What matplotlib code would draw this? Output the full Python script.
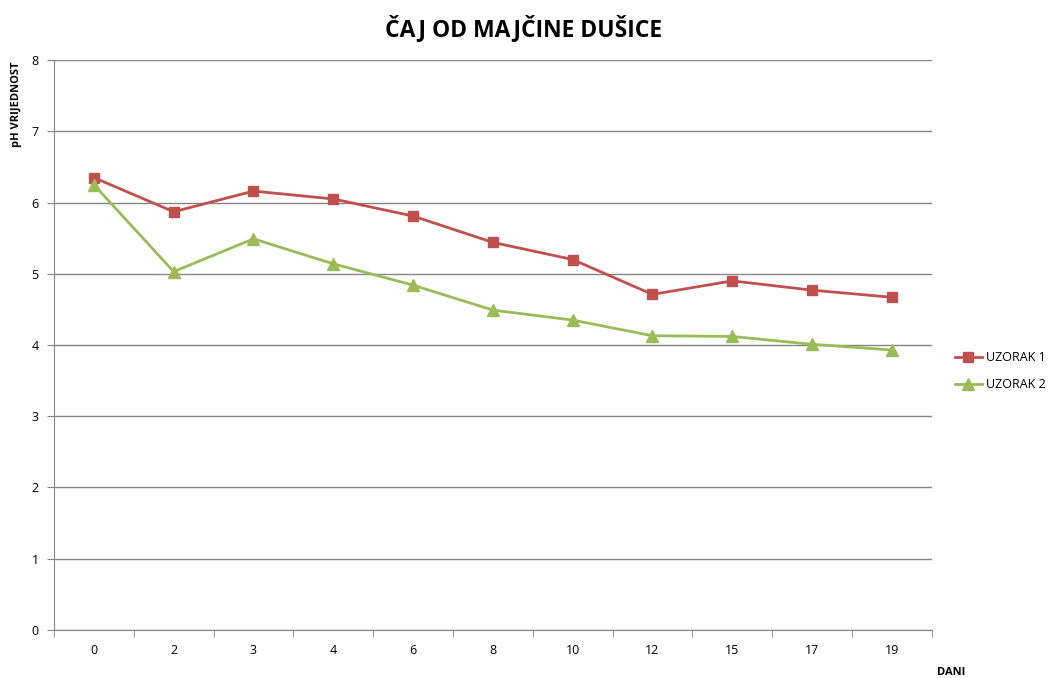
import matplotlib.pyplot as plt
import numpy as np

plt.rcParams['font.family'] = ['Open Sans', 'DejaVu Sans']

dani = ["0", "2", "3", "4", "6", "8", "10", "12", "15", "17", "19"]
uzorak1 = [6.35, 5.87, 6.16, 6.05, 5.81, 5.44, 5.20, 4.71, 4.90, 4.77, 4.67]
uzorak2 = [6.25, 5.03, 5.49, 5.14, 4.84, 4.49, 4.35, 4.13, 4.12, 4.01, 3.93]

fig = plt.figure(figsize=(10.48, 6.78), dpi=100)
ax = fig.add_axes([0.0515, 0.0708, 0.8375, 0.8407])

x = np.arange(len(dani))
ax.plot(x, uzorak1, color="#C0504D", marker="s", markersize=7.5, linewidth=2, label="UZORAK 1")
ax.plot(x, uzorak2, color="#9BBB59", marker="^", markersize=8.5, linewidth=2, label="UZORAK 2")

ax.set_xlim(-0.5, len(dani) - 0.5)
ax.set_ylim(0, 8)
ax.set_yticks(range(0, 9))
ax.set_xticks(x)
ax.set_xticklabels(dani)
ax.set_xticks(np.arange(-0.5, len(dani)), minor=True)
ax.tick_params(axis="x", which="major", length=0, pad=10, labelsize=9)
ax.tick_params(axis="x", which="minor", length=5, color="#868686")
ax.tick_params(axis="y", length=5, color="#868686", labelsize=9, pad=6)

ax.grid(axis="y", color="#868686", linewidth=1)
ax.set_axisbelow(True)
for s in ["top", "right"]:
    ax.spines[s].set_visible(False)
for s in ["left", "bottom"]:
    ax.spines[s].set_color("#868686")

fig.text(0.5, 0.958, "ČAJ OD MAJČINE DUŠICE", ha="center", va="center",
         fontsize=16.5, fontweight="bold")
fig.text(0.016, 0.91, "pH VRIJEDNOST", rotation=90, ha="center", va="top",
         fontsize=8, fontweight="bold")
fig.text(0.894, 0.0, "DANI", ha="left", va="bottom", fontsize=8, fontweight="bold")

ax.legend(loc="center left", bbox_to_anchor=(1.0134, 0.454), frameon=False,
          fontsize=9, handlelength=2.2, labelspacing=1.1, handletextpad=0.3)

fig.savefig("out.png", dpi=100)
